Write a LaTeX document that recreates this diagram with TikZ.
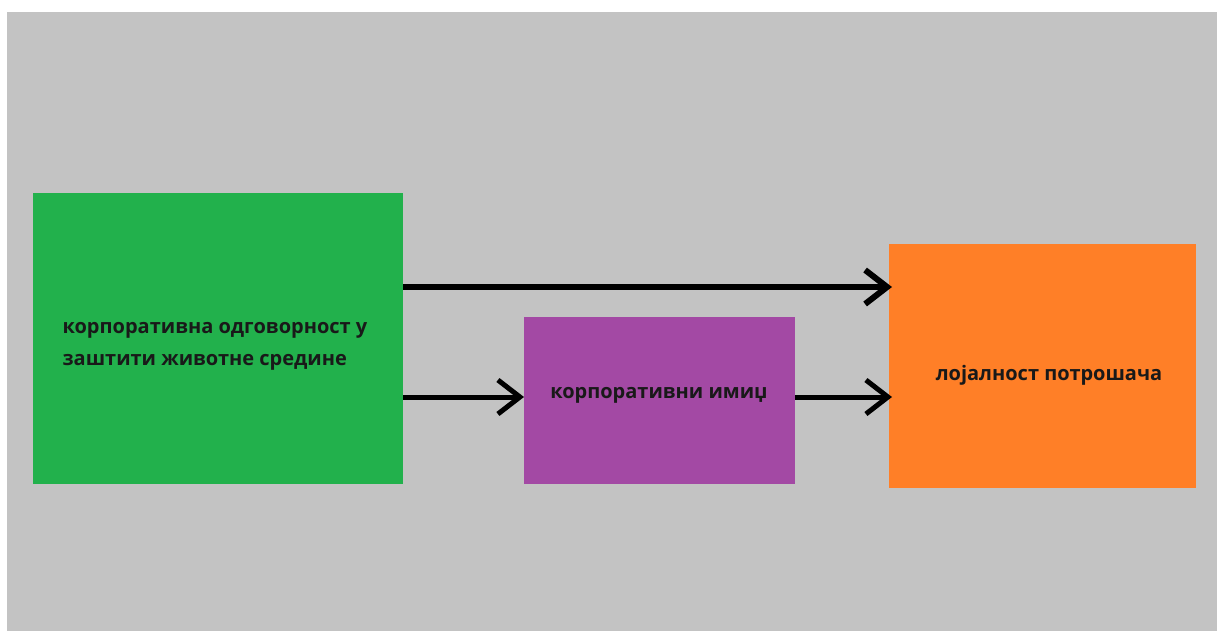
\documentclass[tikz,border=0pt]{standalone}
\usepackage{fontspec}
\setmainfont{Open Sans}
\usetikzlibrary{arrows.meta}
\definecolor{pozadina}{HTML}{C3C3C3}
\definecolor{zelena}{HTML}{22B14C}
\definecolor{ljubicasta}{HTML}{A349A4}
\definecolor{narandzasta}{HTML}{FF7F27}
\begin{document}
\begin{tikzpicture}[
       x=1pt, y=-1pt,
       kutija/.style={
         rectangle,
         inner sep=0pt,
         outer sep=0pt
       },
       tekst/.style={
         font=\fontsize{20}{32}\selectfont\bfseries,
         text=black!90,
         inner sep=0pt
       },
       strelica/.style={
         line width=6pt,
         -{Straight Barb[length=22pt,width=34pt]}
       }
     ]

       \useasboundingbox (0,0) rectangle (1217,631);
       \fill[pozadina] (7,12) rectangle (1217,631);

       \node (zs) at (218,338.5) [kutija,fill=zelena,minimum width=370pt,minimum height=291pt]{};
       \node (im) at (659.5,400.5) [kutija,fill=ljubicasta,minimum width=271pt,minimum height=167pt]{};
       \node (lp) at (1042.5,366) [kutija,fill=narandzasta,minimum width=307pt,minimum height=244pt]{};

       \node (zst) at (215,346) [tekst,align=left]{корпоративна одговорност у\\заштити животне средине};
       \node (imt) at (659,395) [tekst]{корпоративни имиџ};
       \node (lpt) at (1049,375) [tekst]{лојалност потрошача};

       \draw[strelica,shorten >=-3pt] ([yshift=51.5pt]zs.east) -- ([yshift=51.5pt]zs.east -| lp.west);
       \draw[strelica,line width=5pt] ([yshift=-58.5pt]zs.east) -- ([yshift=-58.5pt]zs.east -| im.west);
       \draw[strelica,line width=5pt,shorten >=-3pt] ([yshift=-58.5pt]zs.east -| im.east) -- ([yshift=-58.5pt]zs.east -| lp.west);

\end{tikzpicture}
\end{document}
